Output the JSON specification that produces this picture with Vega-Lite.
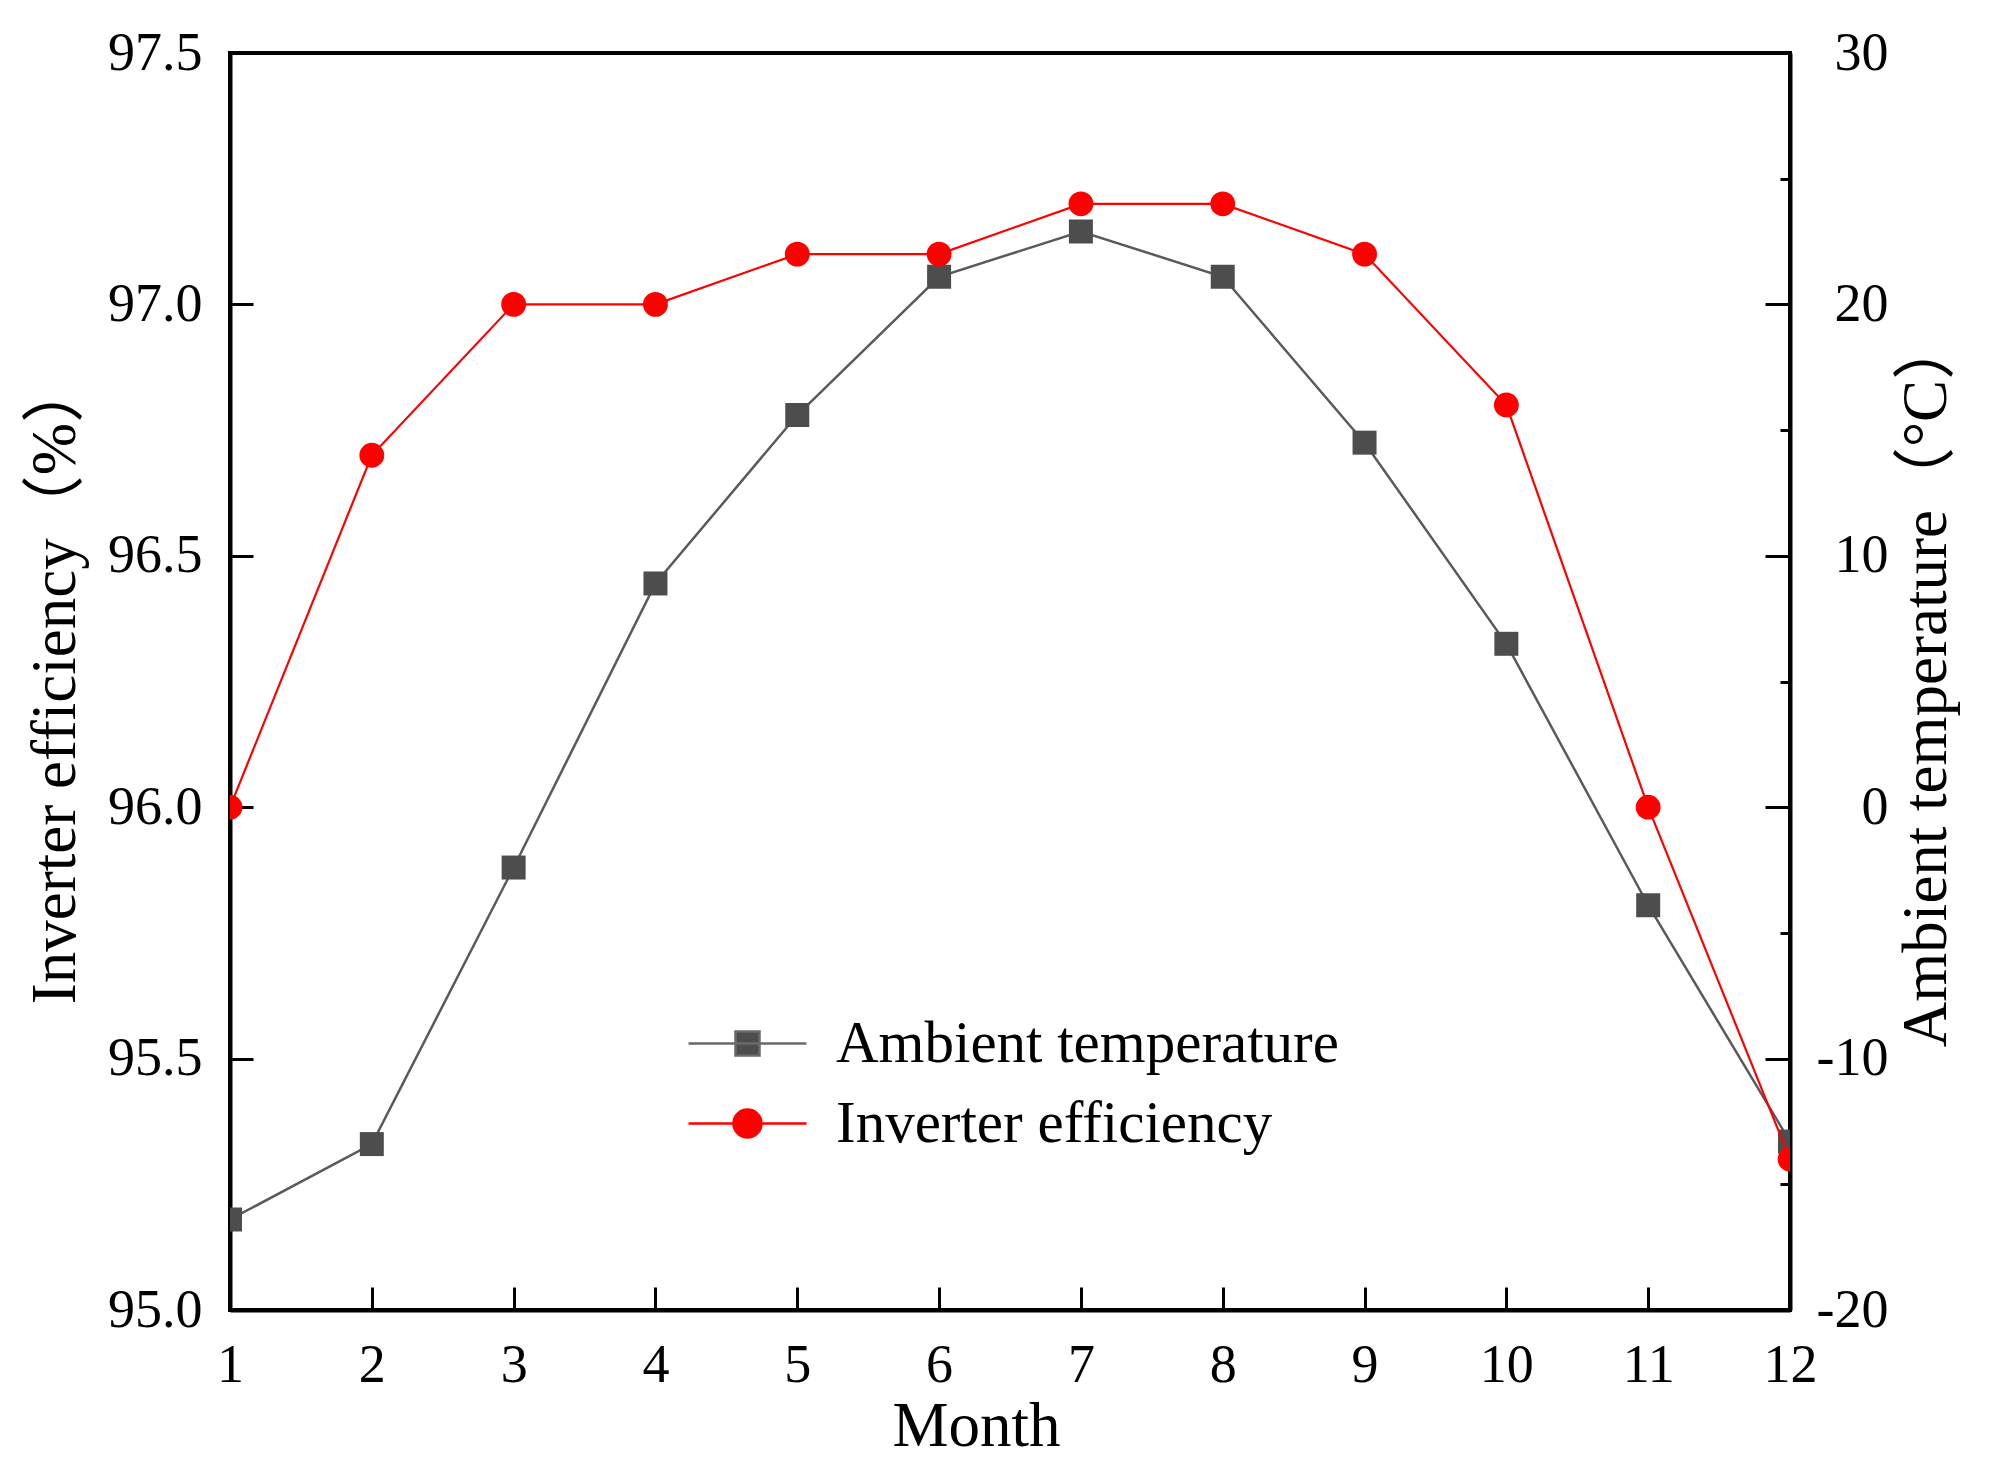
{
  "$schema": "https://vega.github.io/schema/vega-lite/v6.json",
  "autosize": {"type": "none"},
  "padding": {"left": 230, "top": 53, "right": 200, "bottom": 167},
  "width": 1560,
  "height": 1257,
  "background": "white",
  "config": {
    "view": {"stroke": "black", "strokeWidth": 4},
    "font": "Liberation Serif",
    "axis": {
      "grid": false,
      "domainColor": "black",
      "domainWidth": 4,
      "tickColor": "black",
      "tickWidth": 3,
      "labelFont": "Liberation Serif",
      "labelFontSize": 54,
      "labelColor": "black",
      "labelFlush": false,
      "labelOverlap": false,
      "titleFont": "Liberation Serif, Noto Sans CJK SC",
      "titleFontSize": 63,
      "titleFontWeight": "normal",
      "titleColor": "black",
      "zindex": 1
    },
    "legend": {
      "orient": "none",
      "legendX": 488,
      "legendY": 961,
      "title": null,
      "labelFont": "Liberation Serif",
      "labelFontSize": 59,
      "labelColor": "black",
      "labelLimit": 0,
      "labelOffset": 59,
      "symbolSize": 1600,
      "symbolStrokeWidth": 2.5,
      "rowPadding": 20,
      "padding": 0
    }
  },
  "data": {
    "values": [
      {"month": 1, "eff": 96.0, "temp": -16.4},
      {"month": 2, "eff": 96.7, "temp": -13.4},
      {"month": 3, "eff": 97.0, "temp": -2.4},
      {"month": 4, "eff": 97.0, "temp": 8.9},
      {"month": 5, "eff": 97.1, "temp": 15.6},
      {"month": 6, "eff": 97.1, "temp": 21.1},
      {"month": 7, "eff": 97.2, "temp": 22.9},
      {"month": 8, "eff": 97.2, "temp": 21.1},
      {"month": 9, "eff": 97.1, "temp": 14.5},
      {"month": 10, "eff": 96.8, "temp": 6.5},
      {"month": 11, "eff": 96.0, "temp": -3.9},
      {"month": 12, "eff": 95.3, "temp": -13.3}
    ]
  },
  "layer": [
    {
      "encoding": {
        "x": {
          "field": "month", "type": "quantitative",
          "scale": {"domain": [1, 12], "nice": false, "zero": false},
          "axis": {"values": [1,2,3,4,5,6,7,8,9,10,11,12], "tickSize": -23, "labelPadding": 51, "title": "Month", "titlePadding": 3, "titleX": 746, "titleAlign": "center"}
        },
        "y": {
          "field": "temp", "type": "quantitative",
          "scale": {"domain": [-20, 30], "nice": false, "zero": false},
          "axis": {
            "orient": "right",
            "values": [-20,-15,-10,-5,0,5,10,15,20,25,30],
            "labelExpr": "datum.value % 10 === 0 ? '' + datum.value : ''",
            "tickSize": {"condition": {"test": "datum.value % 10 === 0", "value": -25}, "value": -10},
            "labelAlign": "right",
            "labelPadding": 123,
            "title": "Ambient temperature（°C）",
            "titleAngle": 270,
            "titleBaseline": "top",
            "titlePadding": -8
          }
        }
      },
      "layer": [
        {"mark": {"type": "line", "color": "#5a5a5a", "strokeWidth": 2.5, "clip": true}},
        {"mark": {"type": "point", "shape": "square", "filled": true, "color": "#4d4d4d", "opacity": 1, "size": 576, "clip": true}}
      ]
    },
    {
      "encoding": {
        "x": {
          "field": "month", "type": "quantitative",
          "scale": {"domain": [1, 12], "nice": false, "zero": false},
          "axis": {"values": [1,2,3,4,5,6,7,8,9,10,11,12], "tickSize": -23, "labelPadding": 51, "title": "Month", "titlePadding": 3, "titleX": 746, "titleAlign": "center"}
        },
        "y": {
          "field": "eff", "type": "quantitative",
          "scale": {"domain": [95, 97.5], "nice": false, "zero": false},
          "axis": {
            "orient": "left",
            "values": [95, 95.5, 96, 96.5, 97, 97.5],
            "format": ".1f",
            "tickSize": -23,
            "labelPadding": 51,
            "title": "Inverter efficiency（%）",
            "titlePadding": 20
          }
        }
      },
      "layer": [
        {"mark": {"type": "line", "color": "#ff0000", "strokeWidth": 2.2, "clip": true}},
        {"mark": {"type": "point", "shape": "circle", "filled": true, "color": "#ff0000", "opacity": 1, "size": 616, "clip": true}}
      ]
    },
    {
      "data": {"values": [{"series": "Ambient temperature"}, {"series": "Inverter efficiency"}]},
      "transform": [{"filter": "datum.series === 'none'"}],
      "mark": {"type": "point", "opacity": 1},
      "encoding": {
        "fill": {
          "field": "series", "type": "nominal",
          "scale": {"domain": ["Ambient temperature", "Inverter efficiency"], "range": ["#4d4d4d", "#ff0000"]}
        },
        "stroke": {
          "field": "series", "type": "nominal",
          "scale": {"domain": ["Ambient temperature", "Inverter efficiency"], "range": ["#6a6a6a", "#ff0000"]}
        },
        "shape": {
          "field": "series", "type": "nominal",
          "scale": {
            "domain": ["Ambient temperature", "Inverter efficiency"],
            "range": [
              "M-2.95,0H2.95M-0.6,-0.6H0.6V0.6H-0.6Z",
              "M-2.95,0H2.95M0.7,0A0.7,0.7,0,1,1,-0.7,0A0.7,0.7,0,1,1,0.7,0Z"
            ]
          }
        }
      }
    }
  ],
  "resolve": {"scale": {"y": "independent"}}
}
